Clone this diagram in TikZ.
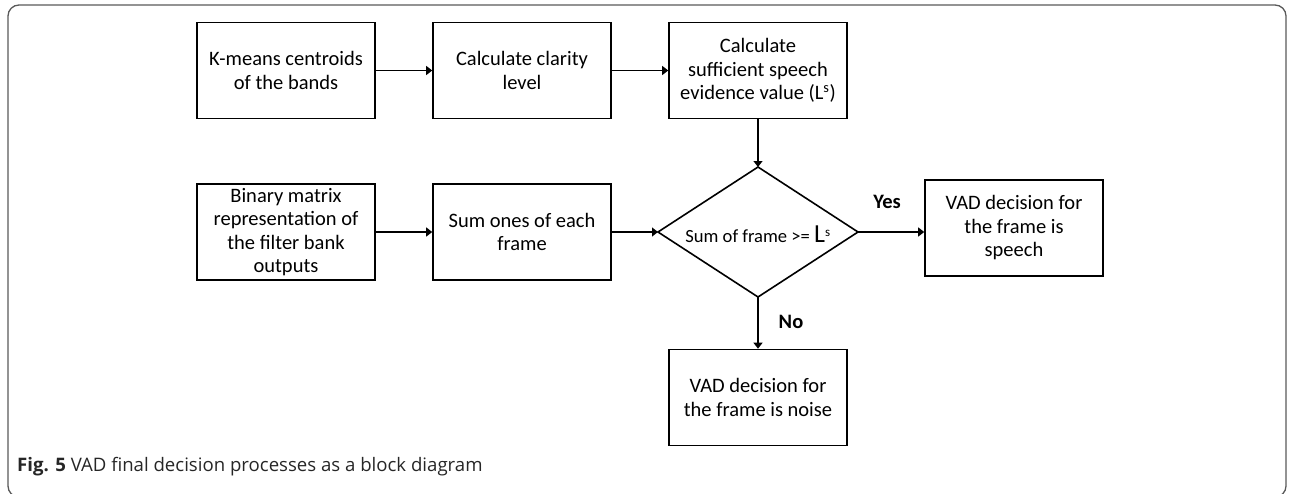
\documentclass[tikz,border=0pt]{standalone}
\usepackage{fontspec}
\setmainfont{Carlito}
\newfontfamily\capfont{Open Sans}
\usetikzlibrary{arrows.meta}
\begin{document}
\begin{tikzpicture}[x=1pt,y=-1pt,
  blk/.style={draw, line width=1.6pt, minimum width=178pt, minimum height=96pt, inner sep=0pt,
    align=center, font=\fontsize{20.5}{23.5}\selectfont},
  conn/.style={line width=1.2pt, -{Triangle[length=6pt,width=9pt]}},
  lbl/.style={font=\fontsize{20.5}{23.5}\selectfont\bfseries}]
\useasboundingbox (0,0) rectangle (1290,493);
\clip (0,0) rectangle (1290,493);
\draw[black!65, line width=1.3pt, rounded corners=11pt] (8,5) rectangle (1286,497);

\node[blk] (km) at (286,70.5) {K-means centroids\\of the bands};
\node[blk] (cl) at (522,70.5) {Calculate clarity\\level};
\node[blk] (ls) at (758,70.5) {Calculate\\sufficient speech\\evidence value (L\textsuperscript{s})};
\node[blk] (bm) at (286,232) {Binary matrix\\representation of\\the filter bank\\outputs};
\node[blk] (so) at (522,232) {Sum ones of each\\frame};
\node[blk] (sp) at (1014,228) {VAD decision for\\the frame is\\speech};
\node[blk] (no) at (758,397.5) {VAD decision for\\the frame is noise};

\coordinate (dT) at (758,167);
\coordinate (dB) at (758,297);
\coordinate (dL) at (658,232);
\coordinate (dR) at (858,232);
\draw[line width=1.6pt, line join=miter] (dT) -- (dR) -- (dB) -- (dL) -- cycle;
\node[inner sep=0pt, font=\fontsize{18.6}{22}\selectfont] (dt) at (758,234) {Sum of frame >= {\fontsize{26}{26}\selectfont L}\textsuperscript{s}};

\draw[conn] (km) -- (cl);
\draw[conn] (cl) -- (ls);
\draw[conn] (bm) -- (so);
\draw[conn] (so) -- (dL);
\draw[conn] (ls) -- (dT);
\draw[conn] (dR) -- (dR -| sp.west);
\draw[conn] (dB) -- (no);

\node[lbl] (yes) at (887,202) {Yes};
\node[lbl] (nol) at (791,322) {No};

\node[anchor=base west, inner sep=0pt, font=\capfont\fontsize{18.6}{22}\selectfont, text=black!85] (cap) at (17,471)
  {\textbf{Fig. 5} VAD final decision processes as a block diagram};
\end{tikzpicture}
\end{document}
